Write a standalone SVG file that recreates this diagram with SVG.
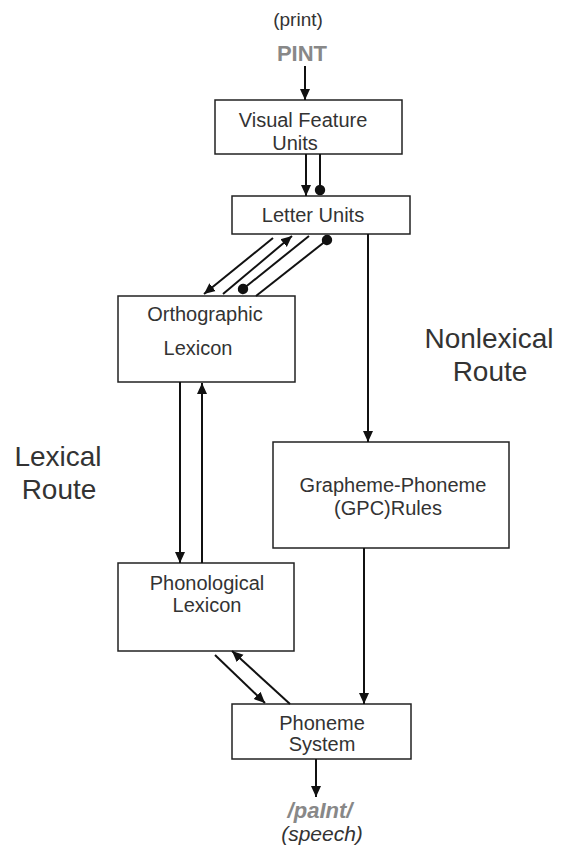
<svg xmlns="http://www.w3.org/2000/svg" width="562" height="847" viewBox="0 0 562 847">
<defs>
<marker id="arr" markerUnits="userSpaceOnUse" markerWidth="12" markerHeight="12" viewBox="0 0 12 10" refX="11" refY="5" orient="auto">
<path d="M0,0 L11,5 L0,10 Z" fill="#111"/>
</marker>
<marker id="dot" markerUnits="userSpaceOnUse" markerWidth="12" markerHeight="12" viewBox="0 0 12 12" refX="6" refY="6" orient="auto">
<circle cx="6" cy="6" r="5.2" fill="#111"/>
</marker>
</defs>
<style>
.box{fill:#fff;stroke:#222;stroke-width:1.5}
.lbl{font-family:"Liberation Sans",Arial,sans-serif;font-size:20px;fill:#333;text-anchor:middle}
.big{font-family:"Liberation Sans",Arial,sans-serif;font-size:28px;fill:#333;text-anchor:middle}
.io{font-family:"Liberation Sans",Arial,sans-serif;fill:#888;text-anchor:middle}
.c{stroke:#111;stroke-width:2;fill:none}
.a{marker-end:url(#arr)}
.d{marker-end:url(#dot)}
</style>
<rect width="562" height="847" fill="#fff"/>

<g id="input">
<text class="io" x="298" y="26" font-size="19" style="fill:#333">(print)</text>
<text class="io" x="302" y="61" font-size="22" font-weight="bold">PINT</text>
</g>

<g id="visual-feature-units">
<rect class="box" x="215" y="100" width="187" height="54"/>
<text class="lbl" x="303" y="127">Visual Feature</text>
<text class="lbl" x="295" y="150">Units</text>
</g>

<g id="letter-units">
<rect class="box" x="232" y="196" width="178" height="38"/>
<text class="lbl" x="313" y="222">Letter Units</text>
</g>

<g id="orthographic-lexicon">
<rect class="box" x="118" y="296" width="177" height="86"/>
<text class="lbl" x="205" y="321">Orthographic</text>
<text class="lbl" x="198" y="355">Lexicon</text>
</g>

<g id="phonological-lexicon">
<rect class="box" x="118" y="563" width="176" height="88"/>
<text class="lbl" x="207" y="590">Phonological</text>
<text class="lbl" x="207" y="612">Lexicon</text>
</g>

<g id="gpc-rules">
<rect class="box" x="273" y="442" width="236" height="106"/>
<text class="lbl" x="393" y="492">Grapheme-Phoneme</text>
<text class="lbl" x="388" y="515">(GPC)Rules</text>
</g>

<g id="phoneme-system">
<rect class="box" x="232" y="704" width="179" height="55"/>
<text class="lbl" x="322" y="730">Phoneme</text>
<text class="lbl" x="322" y="751">System</text>
</g>

<g id="output">
<text class="io" x="320" y="818" font-size="22" font-weight="bold" font-style="italic">/paInt/</text>
<text class="io" x="322" y="841" font-size="21" font-style="italic" style="fill:#333">(speech)</text>
</g>

<g id="route-labels">
<text class="big" x="489" y="348">Nonlexical</text>
<text class="big" x="490" y="381">Route</text>
<text class="big" x="58" y="466">Lexical</text>
<text class="big" x="59" y="499">Route</text>
</g>

<g id="connectors">
<line class="c a" x1="305" y1="66" x2="305" y2="100"/>
<line class="c a" x1="306" y1="154" x2="306" y2="196"/>
<line class="c d" x1="320" y1="154" x2="320" y2="190"/>
<line class="c a" x1="273" y1="238" x2="204" y2="294"/>
<line class="c a" x1="223" y1="294" x2="292" y2="236"/>
<line class="c d" x1="309" y1="236" x2="243" y2="289"/>
<line class="c d" x1="256" y1="296" x2="327" y2="240"/>
<line class="c a" x1="368" y1="234" x2="368" y2="442"/>
<line class="c a" x1="180" y1="382" x2="180" y2="563"/>
<line class="c a" x1="202" y1="563" x2="202" y2="383"/>
<line class="c a" x1="364" y1="548" x2="364" y2="704"/>
<line class="c a" x1="215" y1="655" x2="265" y2="703"/>
<line class="c a" x1="290" y1="704" x2="232" y2="651"/>
<line class="c a" x1="316" y1="759" x2="316" y2="797"/>
</g>
</svg>
